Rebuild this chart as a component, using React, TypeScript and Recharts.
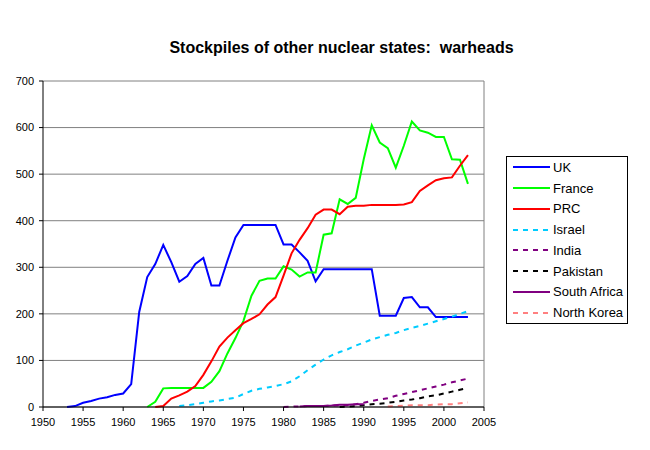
import React from "react";
import {
  LineChart,
  Line,
  XAxis,
  YAxis,
  CartesianGrid,
  Legend,
  ReferenceLine,
} from "recharts";

const TITLE = "Stockpiles of other nuclear states:  warheads";

const X_TICKS = [1950, 1955, 1960, 1965, 1970, 1975, 1980, 1985, 1990, 1995, 2000, 2005];
const Y_TICKS = [0, 100, 200, 300, 400, 500, 600, 700];

// each series: first year + one value per year after that
const ukStart = 1953;
const ukValues = [
  0, 2, 9, 13, 18, 21, 26, 29, 49, 204, 279, 307, 348, 311, 269, 281, 307, 320,
  261, 261, 314, 364, 391, 391, 391, 391, 391, 349, 349, 332, 314, 270, 296, 296,
  296, 296, 296, 296, 296, 196, 196, 196, 234, 236, 214, 214, 193, 193, 193, 193,
  193,
];

const franceStart = 1963;
const franceValues = [
  0, 11, 40, 41, 41, 41, 41, 41, 54, 77, 115, 148, 185, 239, 271, 276, 276, 302,
  295, 280, 289, 289, 370, 373, 446, 436, 449, 532, 605, 568, 556, 514, 561, 613,
  594, 589, 580, 580, 532, 531, 479,
];

const prcStart = 1964;
const prcValues = [
  0, 2, 18, 25, 33, 45, 69, 98, 130, 149, 165, 180, 189, 199, 220, 236, 282, 330,
  359, 384, 413, 424, 424, 414, 430, 432, 432, 434, 434, 434, 434, 435, 440, 464,
  476, 487, 491, 493, 518, 541,
];

const israelStart = 1967;
const israelValues = [
  2, 4, 6, 9, 12, 14, 17, 20, 28, 35, 39, 42, 45, 49, 55, 66, 79, 91, 102, 111,
  118, 124, 132, 138, 145, 150, 155, 159, 165, 170, 174, 179, 184, 189, 194, 200,
  206,
];

const indiaStart = 1980;
const indiaValues = [
  0, 1, 1, 2, 2, 2, 3, 3, 4, 6, 9, 13, 16, 19, 24, 28, 32, 36, 40, 44, 48, 53, 57,
  61,
];

const pakistanStart = 1987;
const pakistanValues = [0, 1, 2, 4, 6, 7, 9, 11, 14, 16, 19, 23, 25, 29, 33, 37, 41];

const southAfricaStart = 1982;
const southAfricaValues = [1, 2, 2, 2, 3, 5, 5, 6, 6];

const northKoreaStart = 1993;
const northKoreaValues = [1, 2, 3, 4, 4, 4, 5, 6, 6, 8, 10];

const SERIES = [
  { key: "uk", name: "UK", color: "#0000ff", dashed: false, start: ukStart, values: ukValues },
  { key: "france", name: "France", color: "#00ff00", dashed: false, start: franceStart, values: franceValues },
  { key: "prc", name: "PRC", color: "#ff0000", dashed: false, start: prcStart, values: prcValues },
  { key: "israel", name: "Israel", color: "#00ccff", dashed: true, start: israelStart, values: israelValues },
  { key: "india", name: "India", color: "#800080", dashed: true, start: indiaStart, values: indiaValues },
  { key: "pakistan", name: "Pakistan", color: "#000000", dashed: true, start: pakistanStart, values: pakistanValues },
  { key: "southAfrica", name: "South Africa", color: "#800080", dashed: false, start: southAfricaStart, values: southAfricaValues },
  { key: "northKorea", name: "North Korea", color: "#ff8080", dashed: true, start: northKoreaStart, values: northKoreaValues },
];

// one row per year, null where a country has no value
const firstYear = Math.min(...SERIES.map((s) => s.start));
const lastYear = Math.max(...SERIES.map((s) => s.start + s.values.length - 1));
const data: Record<string, number | null>[] = [];
for (let year = firstYear; year <= lastYear; year++) {
  const row: Record<string, number | null> = { year };
  for (const s of SERIES) {
    const i = year - s.start;
    row[s.key] = i >= 0 && i < s.values.length ? s.values[i] : null;
  }
  data.push(row);
}

const FONT = '"Liberation Sans", Arial, sans-serif';
const DASH = "5 5";

function LegendBox() {
  return (
    <div
      style={{
        border: "1px solid #000",
        background: "#fff",
        width: 120,
        height: 166,
        fontFamily: FONT,
        fontSize: 13,
        color: "#000",
      }}
    >
      {SERIES.map((s) => (
        <div
          key={s.key}
          style={{ height: 20.75, display: "flex", alignItems: "center" }}
        >
          <svg width={46} height={20} style={{ flex: "none" }}>
            <line
              x1={6}
              x2={43}
              y1={10}
              y2={10}
              stroke={s.color}
              strokeWidth={2}
              strokeDasharray={s.dashed ? DASH : undefined}
            />
          </svg>
          <span style={{ whiteSpace: "nowrap" }}>{s.name}</span>
        </div>
      ))}
    </div>
  );
}

export default function App() {
  return (
    <div
      style={{
        position: "absolute",
        left: 0,
        top: 0,
        width: 650,
        height: 450,
        background: "#fff",
        fontFamily: FONT,
      }}
    >
      <div
        style={{
          position: "absolute",
          left: 0,
          top: 39.5,
          width: 683,
          textAlign: "center",
          fontSize: 16,
          lineHeight: "16px",
          fontWeight: "bold",
          color: "#000",
          whiteSpace: "pre",
        }}
      >
        {TITLE}
      </div>
      <LineChart
        width={650}
        height={450}
        data={data}
        margin={{ top: 81, right: 166, bottom: 13, left: 0 }}
      >
        <CartesianGrid vertical={false} stroke="#808080" />
        <ReferenceLine x={2005} stroke="#808080" />
        <XAxis
          dataKey="year"
          type="number"
          domain={[1950, 2005]}
          ticks={X_TICKS}
          interval={0}
          height={30}
          stroke="#000"
          tickSize={4}
          tickMargin={7}
          tick={{ fill: "#000", fontSize: 11, fontFamily: FONT }}
        />
        <YAxis
          domain={[0, 700]}
          ticks={Y_TICKS}
          interval={0}
          width={43}
          stroke="#000"
          tickSize={4}
          tickMargin={5}
          tick={{ fill: "#000", fontSize: 11, fontFamily: FONT }}
        />
        <Legend
          layout="vertical"
          align="center"
          verticalAlign="middle"
          wrapperStyle={{ left: 506, top: 156, width: 122 }}
          content={() => <LegendBox />}
        />
        {SERIES.map((s) => (
          <Line
            key={s.key}
            type="linear"
            dataKey={s.key}
            name={s.name}
            stroke={s.color}
            strokeWidth={2}
            strokeDasharray={s.dashed ? DASH : undefined}
            dot={false}
            activeDot={false}
            isAnimationActive={false}
          />
        ))}
      </LineChart>
    </div>
  );
}
